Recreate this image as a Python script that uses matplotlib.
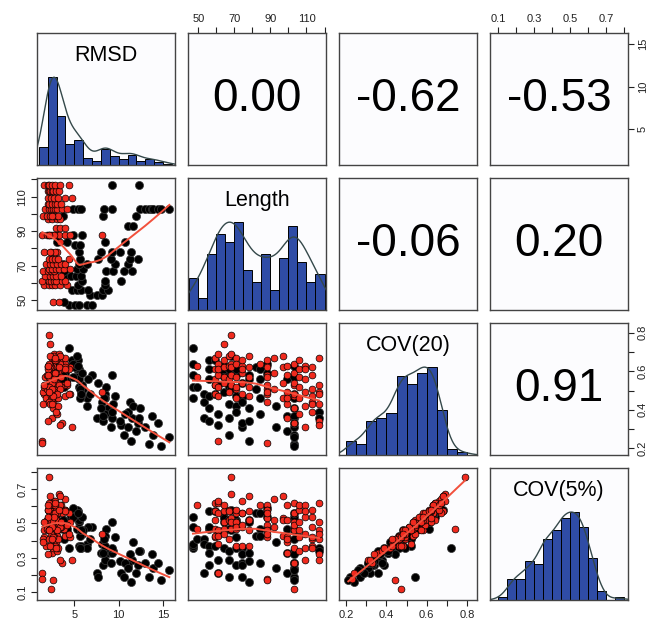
import numpy as np
import matplotlib

matplotlib.use("Agg")
import matplotlib.pyplot as plt

plt.rcParams["font.family"] = ["Liberation Sans", "DejaVu Sans"]

# --- DATA: decoys grouped by target protein (length in residues) ---
protein_length = [47, 49, 53, 56, 59, 61, 64, 67, 68, 71, 74, 78,
                  82, 84, 88, 92, 93, 97, 99, 103, 106, 109, 113, 117]
decoy_count = [5, 3, 3, 6, 8, 10, 9, 9, 8, 11, 11, 10,
               2, 5, 14, 3, 2, 4, 9, 21, 6, 6, 7, 9]

rmsd = [
    4.4, 5.1, 5.5, 6.4, 7.0,  # 47
    2.6, 3.3, 3.8,  # 49
    6.8, 7.5, 8.1,  # 53
    4.7, 5.3, 5.7, 6.5, 8.2, 8.8,  # 56
    1.6, 2.2, 2.5, 2.8, 3.4, 4.2, 5.4, 8.5,  # 59
    1.4, 2.1, 2.4, 2.7, 2.9, 3.6, 3.9, 5.9, 8.4, 10.3,  # 61
    1.7, 2.3, 2.6, 2.9, 3.5, 3.9, 4.6, 5.2, 5.8,  # 64
    1.5, 2.0, 2.4, 2.7, 3.8, 8.6, 9.4, 10.6, 11.5,  # 67
    2.2, 2.5, 2.9, 3.3, 3.8, 4.5, 5.3, 6.0,  # 68
    1.8, 2.3, 2.6, 3.0, 3.5, 4.0, 3.7, 5.5, 6.4, 9.6, 11.0,  # 71
    2.6, 2.1, 2.5, 2.8, 3.2, 4.4, 5.6, 7.7, 9.1, 11.3, 12.2,  # 74
    1.6, 2.4, 3.0, 2.8, 2.3, 5.5, 8.0, 9.2, 10.2, 11.4,  # 78
    5.1, 5.6,  # 82
    3.4, 4.2, 3.1, 8.5, 10.7,  # 84
    1.4, 1.9, 2.2, 2.4, 2.6, 2.9, 3.3, 3.9, 4.5, 2.7, 2.1, 8.1, 4.9, 5.9,  # 88
    2.9, 3.4, 3.9,  # 92
    11.0, 11.6,  # 93
    2.0, 2.5, 3.0, 3.4,  # 97
    1.5, 1.9, 2.3, 2.7, 3.2, 2.5, 3.7, 8.2, 11.9,  # 99
    1.7, 2.1, 2.4, 2.6, 2.8, 3.1, 3.6, 4.2, 4.9, 5.4, 5.7,
    8.3, 9.3, 12.4, 13.0, 13.4, 13.7, 13.9, 14.4, 14.8, 15.7,  # 103
    2.0, 2.2, 2.5, 2.8, 3.1, 3.5,  # 106
    2.0, 2.4, 2.7, 3.2, 3.9, 4.7,  # 109
    2.0, 2.1, 2.3, 2.5, 2.6, 2.9, 3.3,  # 113
    1.6, 2.0, 2.2, 2.5, 2.8, 3.4, 4.4, 9.3, 12.3,  # 117
]

cov20 = [
    0.72, 0.64, 0.52, 0.46, 0.58,  # 47
    0.63, 0.57, 0.52,  # 49
    0.48, 0.36, 0.44,  # 53
    0.66, 0.61, 0.47, 0.56, 0.34, 0.41,  # 56
    0.48, 0.61, 0.67, 0.56, 0.53, 0.53, 0.66, 0.48,  # 59
    0.24, 0.58, 0.64, 0.69, 0.52, 0.61, 0.47, 0.53, 0.38, 0.32,  # 61
    0.57, 0.74, 0.62, 0.54, 0.66, 0.59, 0.63, 0.57, 0.49,  # 64
    0.49, 0.63, 0.56, 0.68, 0.61, 0.52, 0.43, 0.27, 0.36,  # 67
    0.79, 0.64, 0.58, 0.69, 0.53, 0.62, 0.68, 0.51,  # 68
    0.46, 0.51, 0.57, 0.67, 0.52, 0.64, 0.58, 0.61, 0.42, 0.47, 0.39,  # 71
    0.63, 0.54, 0.48, 0.66, 0.59, 0.61, 0.46, 0.54, 0.31, 0.44, 0.33,  # 74
    0.52, 0.62, 0.57, 0.47, 0.68, 0.56, 0.41, 0.58, 0.34, 0.24,  # 78
    0.62, 0.51,  # 82
    0.64, 0.56, 0.61, 0.46, 0.38,  # 84
    0.23, 0.51, 0.63, 0.58, 0.44, 0.66, 0.53, 0.62, 0.48, 0.58, 0.57, 0.49, 0.64, 0.59,  # 88
    0.59, 0.51, 0.67,  # 92
    0.31, 0.42,  # 93
    0.62, 0.54, 0.46, 0.68,  # 97
    0.43, 0.58, 0.63, 0.49, 0.46, 0.36, 0.56, 0.37, 0.29,  # 99
    0.53, 0.64, 0.47, 0.41, 0.59, 0.48, 0.33, 0.54, 0.57, 0.63, 0.48,
    0.46, 0.36, 0.41, 0.31, 0.22, 0.37, 0.27, 0.33, 0.21, 0.26,  # 103
    0.61, 0.52, 0.46, 0.66, 0.38, 0.57,  # 106
    0.63, 0.49, 0.56, 0.42, 0.61, 0.31,  # 109
    0.58, 0.44, 0.43, 0.51, 0.47, 0.39, 0.62,  # 113
    0.53, 0.34, 0.49, 0.43, 0.67, 0.32, 0.48, 0.39, 0.36,  # 117
]

cov5 = [
    0.36, 0.54, 0.37, 0.38, 0.48,  # 47
    0.61, 0.47, 0.41,  # 49
    0.41, 0.21, 0.38,  # 53
    0.57, 0.47, 0.37, 0.48, 0.26, 0.33,  # 56
    0.42, 0.57, 0.62, 0.52, 0.47, 0.43, 0.57, 0.37,  # 59
    0.21, 0.46, 0.62, 0.63, 0.38, 0.56, 0.43, 0.44, 0.29, 0.21,  # 61
    0.51, 0.47, 0.57, 0.44, 0.61, 0.51, 0.54, 0.53, 0.36,  # 64
    0.41, 0.58, 0.52, 0.57, 0.52, 0.47, 0.34, 0.19, 0.29,  # 67
    0.77, 0.52, 0.53, 0.67, 0.47, 0.51, 0.58, 0.46,  # 68
    0.37, 0.47, 0.51, 0.56, 0.48, 0.58, 0.52, 0.51, 0.36, 0.42, 0.26,  # 71
    0.56, 0.48, 0.37, 0.63, 0.49, 0.56, 0.36, 0.19, 0.27, 0.32, 0.26,  # 74
    0.46, 0.57, 0.52, 0.37, 0.66, 0.52, 0.33, 0.51, 0.28, 0.16,  # 78
    0.56, 0.43,  # 82
    0.61, 0.47, 0.56, 0.43, 0.27,  # 84
    0.18, 0.47, 0.61, 0.53, 0.17, 0.58, 0.49, 0.58, 0.42, 0.56, 0.46, 0.44, 0.59, 0.54,  # 88
    0.52, 0.48, 0.64,  # 92
    0.24, 0.39,  # 93
    0.53, 0.52, 0.43, 0.66,  # 97
    0.39, 0.52, 0.61, 0.42, 0.41, 0.33, 0.47, 0.33, 0.21,  # 99
    0.51, 0.62, 0.12, 0.36, 0.56, 0.46, 0.27, 0.49, 0.54, 0.56, 0.46,
    0.41, 0.33, 0.34, 0.27, 0.19, 0.32, 0.24, 0.27, 0.17, 0.23,  # 103
    0.58, 0.46, 0.42, 0.61, 0.34, 0.51,  # 106
    0.61, 0.44, 0.54, 0.36, 0.57, 0.29,  # 109
    0.54, 0.41, 0.37, 0.48, 0.42, 0.36, 0.58,  # 113
    0.51, 0.32, 0.46, 0.41, 0.62, 0.29, 0.44, 0.36, 0.34,  # 117
]

# 1 = near-native decoy (drawn in red)
near_native = [
    0, 0, 0, 0, 0,
    1, 1, 0,
    0, 0, 0,
    0, 0, 0, 0, 0, 0,
    1, 1, 1, 1, 1, 1, 0, 0,
    1, 1, 1, 1, 1, 1, 1, 0, 0, 0,
    1, 1, 1, 1, 1, 0, 0, 0, 0,
    1, 1, 1, 1, 0, 0, 0, 0, 0,
    1, 1, 1, 1, 1, 1, 0, 0,
    1, 1, 1, 1, 1, 1, 0, 0, 0, 0, 0,
    1, 1, 1, 1, 1, 1, 0, 0, 0, 0, 0,
    1, 1, 1, 1, 1, 0, 0, 0, 0, 0,
    0, 0,
    1, 0, 0, 0, 0,
    1, 1, 1, 1, 1, 1, 1, 1, 1, 1, 1, 1, 0, 0,
    1, 1, 1,
    0, 0,
    1, 1, 1, 1,
    1, 1, 1, 1, 1, 1, 0, 0, 0,
    1, 1, 1, 1, 1, 1, 1, 1, 0, 0, 0, 0, 0, 0, 0, 0, 0, 0, 0, 0, 0,
    1, 1, 1, 1, 1, 1,
    1, 1, 1, 1, 1, 1,
    1, 1, 1, 1, 1, 1, 1,
    1, 1, 1, 1, 1, 1, 1, 0, 0,
]

# correlation coefficients printed in the upper panels (row, col)
cor_cells = [(0, 1), (0, 2), (0, 3), (1, 2), (1, 3), (2, 3)]
cor_values = [0.00, -0.62, -0.53, -0.06, 0.20, 0.91]

var_names = ["RMSD", "Length", "COV(20)", "COV(5%)"]

HIST_COLOR = "#2f4ca6"
SMOOTH_COLOR = "#f2503c"


def lowess(x, y, f=2.0 / 3.0, iters=3):
    """Suavizador LOWESS simples (como o lowess() do R)."""
    order = np.argsort(x, kind="mergesort")
    x = np.asarray(x, float)[order]
    y = np.asarray(y, float)[order]
    n = len(x)
    r = int(np.ceil(f * n))
    h = np.array([np.sort(np.abs(x - x[i]))[r - 1] for i in range(n)])
    h = np.maximum(h, 1e-12)
    u = np.clip(np.abs((x[None, :] - x[:, None]) / h[:, None]), 0, 1)
    w = (1 - u ** 3) ** 3
    robust = np.ones(n)
    fit = np.zeros(n)
    for _ in range(iters + 1):
        for i in range(n):
            wi = robust * w[i]
            sw = wi.sum()
            mx = (wi * x).sum() / sw
            my = (wi * y).sum() / sw
            sxx = (wi * (x - mx) ** 2).sum()
            b = (wi * (x - mx) * (y - my)).sum() / sxx if sxx > 1e-12 else 0.0
            fit[i] = my + b * (x[i] - mx)
        res = y - fit
        s = np.median(np.abs(res))
        if s <= 0:
            break
        uu = np.clip(res / (6 * s), -1, 1)
        robust = (1 - uu ** 2) ** 2
    return x, fit


def density_curve(x, adjust=0.85):
    """KDE gaussiano, banda 'nrd' * adjust, escalado para pico = 1."""
    x = np.asarray(x, float)
    n = len(x)
    iqr = np.percentile(x, 75) - np.percentile(x, 25)
    bw = 1.06 * min(np.std(x, ddof=1), iqr / 1.34) * n ** -0.2 * adjust
    grid = np.linspace(x.min() - 3 * bw, x.max() + 3 * bw, 512)
    d = np.exp(-0.5 * ((grid[:, None] - x[None, :]) / bw) ** 2).sum(axis=1)
    return grid, d / d.max()


length = np.repeat(protein_length, decoy_count)
data = [np.array(rmsd), length.astype(float), np.array(cov20), np.array(cov5)]
native = np.array(near_native) == 1

limits = [(0.8, 16.3), (44.3, 120.7), (0.165, 0.85), (0.055, 0.822)]
bins = [
    np.arange(1, 17, 1),
    np.arange(45, 121, 5),
    np.round(np.arange(0.20, 0.801, 0.05), 2),
    np.round(np.arange(0.10, 0.801, 0.05), 2),
]
ticks = [
    [5, 10, 15],
    list(range(50, 121, 10)),
    [0.2, 0.3, 0.4, 0.5, 0.6, 0.7, 0.8],
    [0.1, 0.2, 0.3, 0.4, 0.5, 0.6, 0.7, 0.8],
]
tick_labels = [
    ["5", "10", "15"],
    ["50", "", "70", "", "90", "", "110", ""],
    ["0.2", "", "0.4", "", "0.6", "", "0.8"],
    ["0.1", "", "0.3", "", "0.5", "", "0.7", ""],
]

fig = plt.figure(figsize=(6.53, 6.27), dpi=100, facecolor="white")
gs = fig.add_gridspec(4, 4, left=0.0567, right=0.9617, top=0.947, bottom=0.043,
                      wspace=0.098, hspace=0.0985)

for i in range(4):
    for j in range(4):
        ax = fig.add_subplot(gs[i, j])
        ax.set_facecolor("#fcfcfe")
        for sp in ax.spines.values():
            sp.set_color("#444444")
            sp.set_linewidth(1.0)
        ax.set_xticks([])
        ax.set_yticks([])

        if i == j:
            # histograma + densidade na diagonal
            x = data[i]
            counts, edges = np.histogram(x, bins=bins[i])
            ax.bar(edges[:-1], counts / counts.max(), width=np.diff(edges),
                   align="edge", color=HIST_COLOR, edgecolor="black",
                   linewidth=0.7)
            gx, gy = density_curve(x)
            ax.plot(gx, gy, color="#34484a", linewidth=1.0)
            ax.text(0.5, 0.83, var_names[i], transform=ax.transAxes,
                    ha="center", va="center", fontsize=15.5)
        elif i > j:
            # dispersao + suavizacao lowess
            x, y = data[j], data[i]
            ax.scatter(x[~native], y[~native], s=34, c="black",
                       edgecolors="#3a3a3a", linewidths=0.5, zorder=2)
            ax.scatter(x[native], y[native], s=24, c="#f02a1e",
                       edgecolors="black", linewidths=0.5, zorder=3)
            sx, sy = lowess(x, y)
            ax.plot(sx, sy, color=SMOOTH_COLOR, linewidth=1.4, zorder=4)
        else:
            v = cor_values[cor_cells.index((i, j))]
            ax.text(0.5, 0.5, f"{v:.2f}", transform=ax.transAxes,
                    ha="center", va="center", fontsize=33)

        # eixos alternados como no pairs() do R
        if i == 0 and j in (1, 3):
            ax.set_xticks(ticks[j])
            ax.set_xticklabels(tick_labels[j])
            ax.tick_params(axis="x", top=True, bottom=False, labeltop=True,
                           labelbottom=False, direction="out", length=4,
                           pad=3, labelsize=8, colors="#222222")
        if i == 3 and j in (0, 2):
            ax.set_xticks(ticks[j])
            ax.set_xticklabels(tick_labels[j])
            ax.tick_params(axis="x", direction="out", length=4, pad=3,
                           labelsize=8, colors="#222222")
        if j == 0 and i in (1, 3):
            ax.set_yticks(ticks[i])
            ax.set_yticklabels(tick_labels[i], rotation=90, va="center")
            ax.tick_params(axis="y", direction="out", length=4, pad=3,
                           labelsize=8, colors="#222222")
        if j == 3 and i in (0, 2):
            ax.set_yticks(ticks[i])
            ax.set_yticklabels(tick_labels[i], rotation=90, va="center")
            ax.tick_params(axis="y", left=False, right=True, labelleft=False,
                           labelright=True, direction="out", length=4, pad=3,
                           labelsize=8, colors="#222222")

        ax.set_xlim(*limits[j])
        ax.set_ylim(*((0, 1.5) if i == j else limits[i]))

fig.savefig("out.png", dpi=100, facecolor=fig.get_facecolor())
